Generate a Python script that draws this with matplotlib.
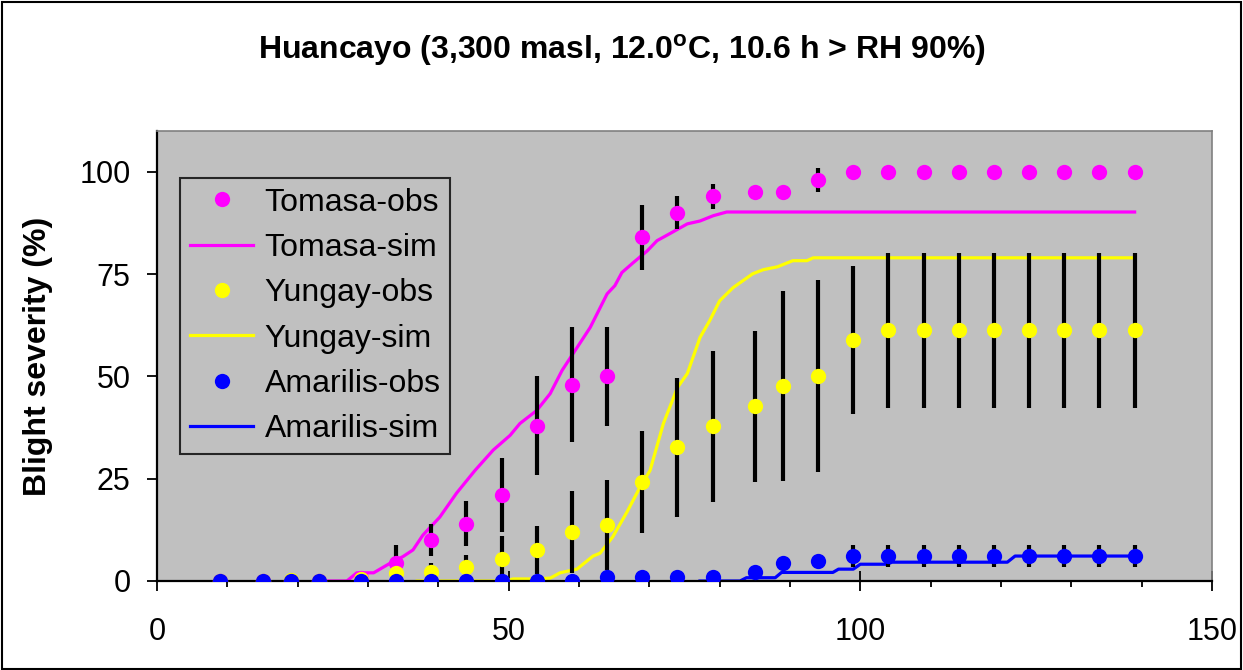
import numpy as np
import matplotlib
matplotlib.use("Agg")
from matplotlib import pyplot as plt
from matplotlib.patches import Rectangle
from matplotlib.ticker import MultipleLocator

plt.rcParams["font.family"] = ["Liberation Sans", "DejaVu Sans"]
plt.rcParams["mathtext.fontset"] = "custom"
plt.rcParams["mathtext.rm"] = "Liberation Sans"
plt.rcParams["mathtext.bf"] = "Liberation Sans:bold"

# observation days
days = [9, 15, 19, 23, 29, 34, 39, 44, 49, 54, 59, 64, 69, 74, 79, 85, 89, 94,
        99, 104, 109, 114, 119, 124, 129, 134, 139]

tomasa_obs = [0, 0, 0, 0, 0.7, 4.3, 10, 14, 21, 38, 48, 50, 84, 90, 94, 95, 95, 98,
              100, 100, 100, 100, 100, 100, 100, 100, 100]
tomasa_err = [0, 0, 0, 0, 0, 4.5, 4, 5.5, 9, 12, 14, 12, 8, 4, 3, 0, 0, 3,
              0, 0, 0, 0, 0, 0, 0, 0, 0]

yungay_obs = [0, 0, 0.3, 0, 0.5, 2, 2.3, 3.4, 5.5, 7.6, 12, 13.8, 24.2, 32.7, 37.8,
              42.7, 47.6, 50.2, 58.9, 61.3, 61.3, 61.3, 61.3, 61.3, 61.3, 61.3, 61.3]
yungay_err = [0, 0, 0, 0, 0, 2, 2, 3, 5.5, 5.8, 10, 11, 12.5, 17, 18.5, 18.5, 23.2,
              23.5, 18, 19, 19, 19, 19, 19, 19, 19, 19]

amarilis_obs = [0, 0, 0, 0, 0, 0, 0, 0, 0, 0, 0, 1, 1, 1, 1, 2.2, 4.3, 5,
                6.2, 6.2, 6.2, 6.2, 6.2, 6.2, 6.2, 6.2, 6.2]
amarilis_err = [0] * 18 + [2.7] * 9

# simulated curves (traced)
tomasa_sim_x = [24, 27, 28.4, 30.8, 33.1, 35, 36.4, 37.8, 40.2, 42.6, 45.2, 47.8,
                50.2, 51.6, 54, 55.9, 57.6, 59.7, 61.6, 64, 65.1, 66.1, 67.7, 69.7,
                71.1, 72.9, 75.4, 77.2, 79.1, 81, 139]
tomasa_sim_y = [0, 0, 2, 2, 4.3, 6, 7.6, 11.2, 15.6, 21.5, 27, 32, 35.6, 38.5, 41.7,
                45.8, 51.5, 57, 62, 70.2, 72.2, 75.4, 77.8, 80.7, 83.2, 84.9, 87.3,
                88, 89.3, 90.2, 90.2]

yungay_sim_x = [37, 49.8, 50.6, 54, 55.9, 57.3, 59.7, 62, 63, 64.8, 66.8, 68.7, 70.1,
                72, 74, 75.4, 77.2, 78.6, 80, 81.9, 84.7, 86.2, 88.2, 90.4, 92.4,
                93.3, 139]
yungay_sim_y = [0, 0, 0.5, 0.5, 0.7, 2, 2.9, 6.1, 6.8, 10.8, 16.8, 23, 27, 38.5,
                47.3, 50.7, 59.5, 63.7, 68.5, 71.7, 75.1, 76.1, 76.8, 78.3, 78.3,
                79, 79]

amarilis_sim_x = [77.2, 82.9, 83.8, 87.9, 88.8, 96.1, 96.9, 99, 100, 103.8, 104.5,
                  120.9, 122, 139]
amarilis_sim_y = [0, 0, 0.8, 0.8, 2.1, 2.1, 2.9, 2.9, 4.1, 4.1, 4.6, 4.6, 6.1, 6.1]

MAGENTA = "#FF00FF"
YELLOW = "#FFFF00"
BLUE = "#0000FF"

fig = plt.figure(figsize=(12.43, 6.70), dpi=100)
ax = fig.add_axes([157 / 1243, 1 - 581 / 670, 1055 / 1243, 450 / 670])
ax.set_facecolor("#C0C0C0")

series = [
    ("Tomasa", tomasa_obs, tomasa_err, tomasa_sim_x, tomasa_sim_y, MAGENTA),
    ("Yungay", yungay_obs, yungay_err, yungay_sim_x, yungay_sim_y, YELLOW),
    ("Amarilis", amarilis_obs, amarilis_err, amarilis_sim_x, amarilis_sim_y, BLUE),
]

x = np.array(days)
for i, (name, obs, err, sx, sy, color) in enumerate(series):
    obs = np.array(obs)
    err = np.array(err)
    has = err > 0
    ax.errorbar(x[has], obs[has], yerr=err[has], fmt="none", ecolor="black",
                elinewidth=3, capsize=0, zorder=3)
    ax.plot(x, obs, "o", color=color, markersize=11, markeredgewidth=0,
            label=f"{name}-obs", zorder=4 + i)
    ax.plot(sx, sy, "-", color=color, linewidth=2.3, label=f"{name}-sim",
            zorder=2)

ax.set_xlim(0, 150)
ax.set_ylim(0, 110)
ax.set_xticks([0, 50, 100, 150])
ax.xaxis.set_minor_locator(MultipleLocator(10))
ax.set_yticks([0, 25, 50, 75, 100])
ax.tick_params(axis="x", which="major", direction="inout", length=14, width=1.3,
               labelsize=22, pad=19)
ax.tick_params(axis="x", which="minor", direction="out", length=4.5, width=1.3)
ax.tick_params(axis="y", which="major", direction="out", length=7, width=1.3,
               labelsize=22, pad=12)

for side in ("left", "bottom"):
    ax.spines[side].set_color("black")
    ax.spines[side].set_linewidth(1.6)
for side in ("top", "right"):
    ax.spines[side].set_color("#808080")
    ax.spines[side].set_linewidth(1.2)

ax.set_ylabel("Blight severity (%)", fontsize=23, fontweight="bold")
ax.yaxis.set_label_coords(-0.0986, 0.5)

leg = ax.legend(loc="upper left", bbox_to_anchor=(0.0218, 0.8956), borderaxespad=0,
                fontsize=23, numpoints=1, handlelength=2.0, handletextpad=0.35,
                labelspacing=0.48, borderpad=0.3, frameon=True, fancybox=False)
leg.get_frame().set_facecolor("none")
leg.get_frame().set_edgecolor("black")
leg.get_frame().set_linewidth(1.5)

fig.text(0.5, 1 - 50 / 670, r"Huancayo (3,300 masl, 12.0$^{\mathbf{o}}$C, 10.6 h > RH 90%)",
         ha="center", va="center", fontsize=23, fontweight="bold")

fig.patches.append(Rectangle((0.0015, 0.002), 0.997, 0.995, transform=fig.transFigure,
                             fill=False, edgecolor="black", linewidth=1.5))

fig.savefig("out.png", dpi=100)
